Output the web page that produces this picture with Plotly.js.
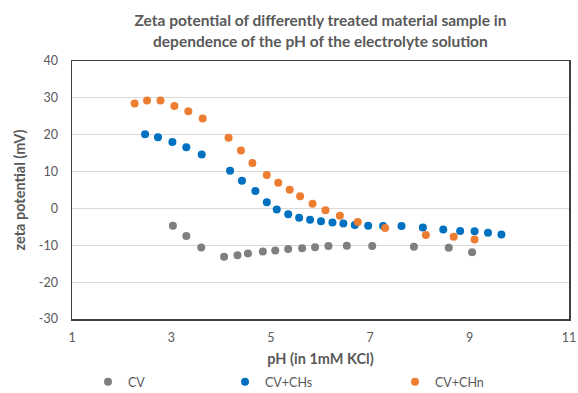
<!DOCTYPE html>
<html>
<head>
<meta charset="utf-8">
<script src="https://cdn.plot.ly/plotly-3.0.1.min.js"></script>
<style>html,body{margin:0;padding:0;background:#fff;}#chart{width:578px;height:393px;}</style>
</head>
<body>
<div id="chart"></div>
<script>
// CV
const cvPH = [3.03, 3.30, 3.60, 4.06, 4.33, 4.54, 4.84, 5.09, 5.35, 5.63, 5.89, 6.16, 6.53, 7.04, 7.88, 8.58, 9.05];
const cvZeta = [-4.7, -7.5, -10.6, -13.1, -12.7, -12.2, -11.7, -11.4, -11.0, -10.8, -10.5, -10.2, -10.1, -10.2, -10.4, -10.7, -11.9];
// CV+CHs
const chsPH = [2.47, 2.73, 3.02, 3.30, 3.61, 4.18, 4.42, 4.69, 4.92, 5.12, 5.35, 5.57, 5.79, 6.01, 6.24, 6.46, 6.69, 6.96, 7.26, 7.63, 8.06, 8.47, 8.81, 9.10, 9.37, 9.64];
const chsZeta = [20.1, 19.3, 18.0, 16.6, 14.6, 10.2, 7.5, 4.7, 1.7, -0.3, -1.6, -2.5, -3.1, -3.5, -3.8, -4.1, -4.5, -4.7, -4.8, -4.8, -5.2, -5.7, -6.1, -6.2, -6.6, -7.1];
// CV+CHn
const chnPH = [2.26, 2.51, 2.78, 3.06, 3.34, 3.63, 4.15, 4.40, 4.63, 4.92, 5.15, 5.38, 5.59, 5.84, 6.10, 6.39, 6.75, 7.30, 8.12, 8.68, 9.10];
const chnZeta = [28.5, 29.3, 29.3, 27.8, 26.4, 24.4, 19.2, 15.7, 12.3, 9.1, 7.0, 5.1, 3.3, 1.3, -0.5, -2.0, -3.7, -5.3, -7.2, -7.7, -8.4];

const names = ["CV", "CV+CHs", "CV+CHn"];
const colors = ["#7F7F7F", "#0070C0", "#ED7D31"];
const titleLine1 = "Zeta potential of differently treated material sample in";
const titleLine2 = "dependence of the pH of the electrolyte solution";
const xTitle = "pH (in 1mM KCl)";
const yTitle = "zeta potential (mV)";
const xTickVals = [1, 3, 5, 7, 9, 11];
const xTickText = ["1", "3", "5", "7", "9", "11"];
const yTickVals = [-30, -20, -10, 0, 10, 20, 30, 40];
const yTickText = ["-30", "-20", "-10", "0", "10", "20", "30", "40"];

const font = "Lato, 'Open Sans', sans-serif";
const xs = [cvPH, chsPH, chnPH];
const ys = [cvZeta, chsZeta, chnZeta];
const legendIds = ["legend", "legend2", "legend3"];

const traces = xs.map((x, i) => ({
  x: x, y: ys[i], name: names[i], type: "scatter", mode: "markers",
  marker: {color: colors[i], size: 8},
  legend: legendIds[i]
}));

const legendBase = (px) => ({
  x: (px - 72) / 497, y: (393 - 382) / 393, xref: "paper", yref: "container", xanchor: "left", yanchor: "middle",
  orientation: "h", font: {family: font, size: 12.5, color: "#595959"},
  bgcolor: "rgba(0,0,0,0)", itemwidth: 30, tracegroupgap: 0
});

const layout = {
  width: 578, height: 393,
  margin: {l: 72, r: 9, t: 61, b: 74},
  paper_bgcolor: "#fff", plot_bgcolor: "#fff",
  font: {family: font, color: "#595959"},
  title: {text: "<b>" + titleLine1 + "</b>", x: 0.5, xref: "paper", y: (393 - 21) / 393, yref: "container",
          font: {family: font, size: 15.5, color: "#595959"}, yanchor: "middle"},
  annotations: [{text: "<b>" + titleLine2 + "</b>", xref: "paper", yref: "paper", x: 0.5, y: 1, yshift: 20,
                 showarrow: false, xanchor: "center", yanchor: "middle",
                 font: {family: font, size: 15.5, color: "#595959"}}],
  xaxis: {range: [1, 11], tickmode: "array", tickvals: xTickVals, ticktext: xTickText,
          showgrid: false, zeroline: false,
          showline: true, linecolor: "#404040", linewidth: 1.5, mirror: true, ticks: "",
          ticklabelstandoff: 6,
          tickfont: {family: font, size: 12.5, color: "#595959"},
          title: {text: "<b>" + xTitle + "</b>", font: {family: font, size: 14.5, color: "#595959"}, standoff: 10}},
  yaxis: {range: [-30, 40], tickmode: "array", tickvals: yTickVals, ticktext: yTickText,
          showgrid: true, gridcolor: "#D9D9D9", gridwidth: 1, zeroline: false,
          showline: true, linecolor: "#404040", linewidth: 1.5, mirror: true, ticks: "",
          ticklabelstandoff: 10,
          tickfont: {family: font, size: 12.5, color: "#595959"},
          title: {text: "<b>" + yTitle + "</b>", font: {family: font, size: 14.5, color: "#595959"}, standoff: 10}},
  legend: legendBase(88),
  legend2: legendBase(225),
  legend3: legendBase(395),
  showlegend: true
};

Plotly.newPlot("chart", traces, layout, {staticPlot: true, displayModeBar: false});
</script>
</body>
</html>
